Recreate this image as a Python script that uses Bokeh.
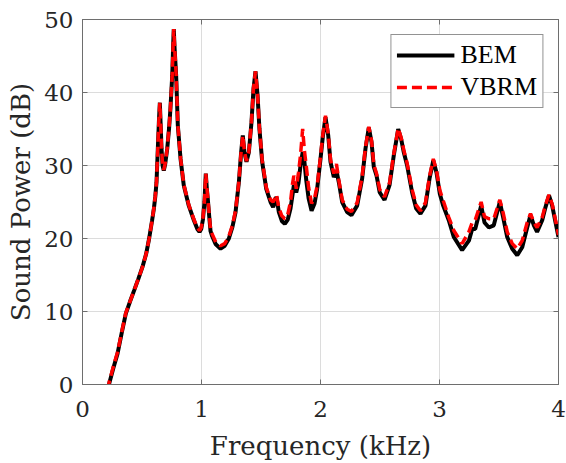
from bokeh.plotting import figure
from bokeh.models import ColumnDataSource, FixedTicker, LinearAxis, Range1d, Legend, LegendItem, CustomJSTickFormatter
from bokeh.embed import file_html
from bokeh.resources import INLINE

# Frequency in kHz
freq = [0.21, 0.224, 0.26, 0.294, 0.33, 0.364, 0.40, 0.434, 0.47, 0.504, 0.535, 0.56, 0.585,
        0.60, 0.612, 0.622, 0.633, 0.642, 0.65, 0.657, 0.664, 0.673, 0.683, 0.695, 0.712, 0.728,
        0.739, 0.754, 0.762, 0.767, 0.774, 0.787, 0.801, 0.824, 0.851, 0.893, 0.936, 0.965, 0.983,
        0.998, 1.012, 1.025, 1.036, 1.045, 1.053, 1.065, 1.076, 1.09, 1.12, 1.16, 1.195, 1.23,
        1.26, 1.286, 1.314, 1.333, 1.347, 1.361, 1.378, 1.398, 1.42, 1.437, 1.454, 1.471, 1.487,
        1.51, 1.544, 1.58, 1.602, 1.63, 1.65, 1.675, 1.70, 1.725, 1.748, 1.765, 1.776, 1.786,
        1.796, 1.815, 1.832, 1.85, 1.865, 1.88, 1.90, 1.925, 1.95, 1.972, 2.0, 2.02, 2.042, 2.065,
        2.084, 2.112, 2.134, 2.154, 2.182, 2.224, 2.26, 2.308, 2.35, 2.378, 2.406, 2.429, 2.448,
        2.471, 2.498, 2.538, 2.58, 2.616, 2.653, 2.678, 2.70, 2.728, 2.77, 2.804, 2.84, 2.882,
        2.916, 2.948, 2.975, 3.003, 3.031, 3.078, 3.12, 3.19, 3.247, 3.275, 3.30, 3.35, 3.378,
        3.415, 3.456, 3.507, 3.535, 3.569, 3.611, 3.653, 3.695, 3.737, 3.765, 3.793, 3.82, 3.863,
        3.891, 3.92, 3.947, 3.975, 4.0]

bem = [-1.0, 0.1, 2.3, 4.2, 7.1, 9.7, 11.4, 12.9, 14.5, 16.1, 17.9, 20.0, 22.5,
       24.1, 25.8, 27.7, 32.3, 36.0, 38.6, 35.5, 32.3, 30.0, 29.3, 30.2, 32.3, 35.2,
       37.8, 42.3, 46.5, 48.7, 46.0, 42.3, 35.5, 30.9, 27.3, 24.5, 22.5, 21.3, 20.9,
       21.3, 22.6, 25.0, 28.9, 26.8, 25.4, 23.0, 21.0, 20.3, 19.2, 18.6, 19.0, 20.0,
       21.6, 23.6, 27.7, 31.8, 34.1, 31.8, 30.5, 31.8, 35.9, 40.5, 42.9, 39.6, 35.0,
       30.5, 26.8, 25.0, 24.3, 25.7, 23.6, 22.4, 22.0, 22.6, 24.1, 26.0, 27.3, 27.0,
       26.3, 27.6, 30.0, 31.8, 30.5, 28.0, 25.5, 23.8, 24.8, 26.8, 30.9, 34.0, 36.6, 34.1,
       30.5, 28.4, 29.3, 27.7, 25.0, 23.6, 23.2, 24.5, 28.2, 32.3, 35.2, 33.2, 29.8,
       28.6, 26.3, 25.3, 27.3, 31.4, 35.0, 33.6, 31.8, 30.0, 26.3, 24.1, 23.4, 24.5,
       28.2, 30.7, 29.0, 26.1, 24.5, 22.5, 20.2, 18.4, 19.7, 21.3, 21.3, 24.5, 22.2,
       21.5, 21.8, 25.0, 22.9, 20.2, 18.6, 17.7, 18.8, 21.5, 23.2, 21.8, 20.9, 22.5,
       24.3, 25.9, 24.5, 22.2, 20.2]

vbrm = [-0.8, 0.3, 2.5, 4.4, 7.2, 9.8, 11.4, 12.9, 14.5, 16.1, 17.9, 20.0, 22.5,
        24.2, 25.9, 27.8, 32.4, 36.2, 38.6, 35.6, 32.4, 30.1, 29.4, 30.3, 32.4, 35.3,
        37.9, 42.4, 46.6, 48.7, 46.2, 42.4, 35.6, 31.0, 27.4, 24.6, 22.6, 21.5, 21.1,
        21.5, 22.8, 25.2, 28.9, 27.0, 25.5, 23.2, 21.2, 20.6, 19.5, 19.0, 19.3, 20.3,
        21.8, 23.8, 27.8, 31.9, 34.1, 31.9, 30.6, 31.9, 36.0, 40.6, 42.9, 39.7, 35.1,
        30.7, 27.0, 25.3, 25.0, 26.0, 24.2, 23.1, 22.7, 23.3, 25.0, 27.5, 28.6, 28.0,
        26.8, 29.0, 31.4, 35.0, 32.0, 30.0, 27.0, 24.8, 25.5, 27.2, 31.2, 34.3, 36.8, 34.3,
        30.8, 28.9, 30.2, 28.0, 25.3, 24.0, 23.7, 24.9, 28.5, 32.5, 35.3, 33.4, 30.1,
        28.9, 26.7, 25.7, 27.6, 31.6, 35.1, 33.8, 32.1, 30.3, 26.7, 24.6, 23.8, 24.9,
        28.5, 30.9, 29.3, 26.6, 25.2, 22.9, 21.1, 19.3, 20.9, 22.2, 22.5, 25.0, 23.0,
        22.7, 22.7, 25.3, 23.5, 20.9, 19.3, 18.6, 19.7, 22.2, 23.4, 22.2, 21.5, 22.9,
        24.6, 26.0, 24.7, 22.5, 20.5]

x_ticks = [0, 1, 2, 3, 4]
y_ticks = [0, 10, 20, 30, 40, 50]
series_names = ["BEM", "VBRM"]

AXFONT = "DejaVu Serif"
LEGFONT = "Liberation Serif"
AX_COLOR = "#6e6e6e"
TXT = "#262626"

src = ColumnDataSource(data=dict(f=freq, bem=bem, vbrm=vbrm))

p = figure(width=566, height=463, output_backend="svg", toolbar_location=None,
           x_range=Range1d(0, 4), y_range=Range1d(0, 50),
           min_border_left=82, min_border_right=8, min_border_top=19, min_border_bottom=79)
p.background_fill_color = "white"
p.border_fill_color = "white"
p.outline_line_color = AX_COLOR
p.outline_line_width = 1

r1 = p.line("f", "bem", source=src, line_color="black", line_width=4)
r2 = p.line("f", "vbrm", source=src, line_color="#ff0000", line_width=3.5, line_dash="10 5")

xa = p.below[0]
ya = p.left[0]
for ax, ticks in ((xa, x_ticks), (ya, y_ticks)):
    ax.ticker = FixedTicker(ticks=ticks)
    ax.minor_tick_line_color = None
    ax.major_tick_in = 5
    ax.major_tick_out = 0
    ax.axis_line_color = AX_COLOR
    ax.major_tick_line_color = AX_COLOR
    ax.major_label_text_font = AXFONT
    ax.major_label_text_font_size = "23px"
    ax.major_label_text_color = TXT
    ax.axis_label_text_font = AXFONT
    ax.axis_label_text_font_size = "26px"
    ax.axis_label_text_font_style = "normal"
    ax.axis_label_text_color = TXT

xa.axis_label = "Frequency (kHz)"
ya.axis_label = "Sound Power (dB)"
xa.major_label_standoff = 16
xa.axis_label_standoff = 11
ya.major_label_standoff = 9
ya.axis_label_standoff = 5

for loc, ticks in (("right", y_ticks), ("above", x_ticks)):
    ax = LinearAxis(ticker=FixedTicker(ticks=ticks),
                    formatter=CustomJSTickFormatter(code="return ''"))
    ax.minor_tick_line_color = None
    ax.major_tick_in = 5
    ax.major_tick_out = 0
    ax.axis_line_color = AX_COLOR
    ax.major_tick_line_color = AX_COLOR
    ax.major_label_text_font_size = "1px"
    ax.major_label_standoff = 0
    ax.axis_label_standoff = 0
    p.add_layout(ax, loc)

p.xgrid.ticker = FixedTicker(ticks=x_ticks)
p.ygrid.ticker = FixedTicker(ticks=y_ticks)
for g in (p.xgrid[0], p.ygrid[0]):
    g.grid_line_color = "#dcdcdc"
    g.grid_line_width = 1

legend = Legend(items=[LegendItem(label=series_names[0], renderers=[r1]),
                       LegendItem(label=series_names[1], renderers=[r2])],
                location="top_right")
legend.margin = 15
legend.padding = 5
legend.spacing = 2
legend.glyph_width = 58
legend.glyph_height = 28
legend.label_height = 28
legend.label_standoff = 6
legend.label_text_font = LEGFONT
legend.label_text_font_size = "26px"
legend.label_text_color = "black"
legend.border_line_color = "#262626"
legend.border_line_width = 1
legend.background_fill_color = "white"
legend.background_fill_alpha = 1
p.add_layout(legend, "center")

open("out.html", "w").write(file_html(p, INLINE))
